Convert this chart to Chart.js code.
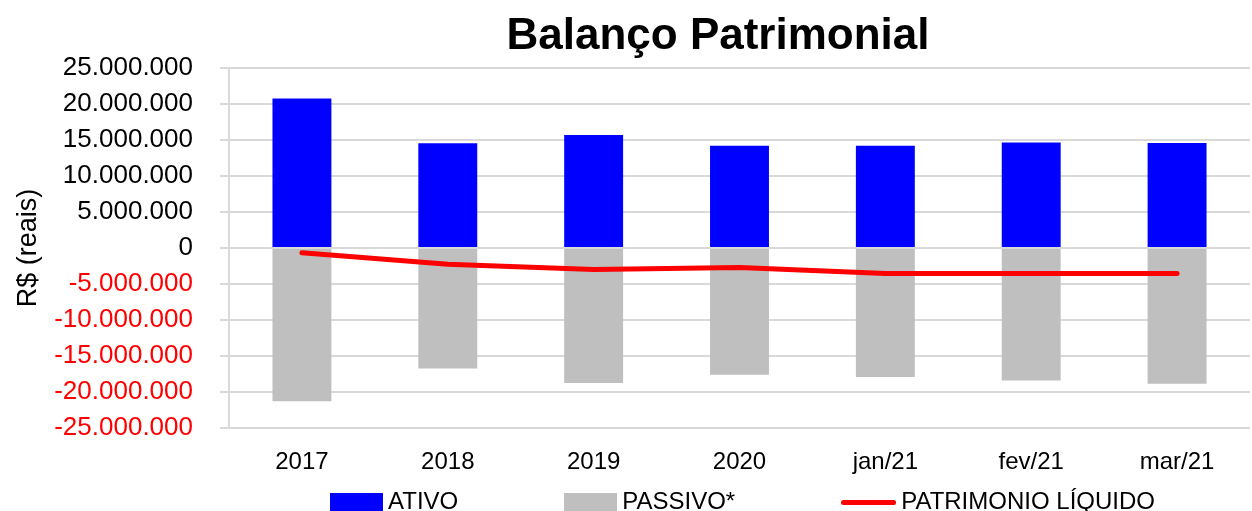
<!DOCTYPE html>
<html>
<head>
<meta charset="utf-8">
<script src="https://cdn.jsdelivr.net/npm/chart.js@4.4.0/dist/chart.umd.min.js"></script>
<style>
  body { margin: 0; background: #fff; overflow: hidden; }
  #wrap { position: relative; width: 1252px; height: 511px; font-family: "Liberation Sans", Arial, sans-serif; }
  #title { position: absolute; left: 418px; width: 600px; top: 12px; text-align: center;
           font: bold 44px/44px "Liberation Sans", Arial, sans-serif; color: #000; }
  #legend { position: absolute; left: 330px; top: 489px; display: flex; gap: 106px; }
  .item { display: flex; align-items: flex-start; font-size: 24px; line-height: 24px; color: #000; }
  .sw { width: 53px; height: 18px; margin-top: 4px; margin-right: 5px; }
  .ln { width: 55px; height: 5px; border-radius: 3px; margin-top: 11px; margin-right: 5px; }
</style>
</head>
<body>
<div id="wrap">
  <canvas id="c" width="1252" height="511"></canvas>
  <div id="title">Balanço Patrimonial</div>
  <div id="legend">
    <div class="item"><span class="sw" style="background:#0000FF"></span>ATIVO</div>
    <div class="item"><span class="sw" style="background:#BFBFBF"></span>PASSIVO*</div>
    <div class="item"><span class="ln" style="background:#FF0000"></span>PATRIMONIO LÍQUIDO</div>
  </div>
</div>
<script>
const labels = ['2017', '2018', '2019', '2020', 'jan/21', 'fev/21', 'mar/21'];
const ativo = [20750000, 14550000, 15700000, 14200000, 14200000, 14650000, 14600000];
const passivo = [-21300000, -16750000, -18750000, -17600000, -17900000, -18400000, -18850000];
const patrimonio = [-650000, -2270000, -2970000, -2700000, -3550000, -3550000, -3550000];

Chart.defaults.color = '#000';
Chart.defaults.font.family = '"Liberation Sans", Arial, sans-serif';

function fmt(v) {
  const s = String(Math.abs(v)).replace(/\B(?=(\d{3})+(?!\d))/g, '.');
  return v < 0 ? '-' + s : s;
}

new Chart(document.getElementById('c'), {
  data: {
    labels: labels,
    datasets: [
      {
        type: 'line',
        label: 'PATRIMONIO LÍQUIDO',
        data: patrimonio,
        borderColor: '#FF0000',
        borderWidth: 5,
        pointRadius: 0,
        tension: 0,
        borderCapStyle: 'round',
        borderJoinStyle: 'round',
        order: 0
      },
      {
        type: 'bar',
        label: 'ATIVO',
        data: ativo,
        backgroundColor: '#0000FF',
        categoryPercentage: 1,
        barPercentage: 0.404,
        order: 1
      },
      {
        type: 'bar',
        label: 'PASSIVO*',
        data: passivo,
        backgroundColor: '#BFBFBF',
        categoryPercentage: 1,
        barPercentage: 0.404,
        order: 1
      }
    ]
  },
  options: {
    responsive: false,
    animation: false,
    layout: { padding: { left: 12, right: 2, top: 68, bottom: 0 } },
    plugins: {
      legend: { display: false },
      tooltip: { enabled: false }
    },
    scales: {
      x: {
        stacked: true,
        offset: true,
        grid: { display: false, drawTicks: false },
        border: { display: false },
        ticks: { padding: 20, font: { size: 24 } },
        afterFit: (scale) => { scale.height = 83; }
      },
      y: {
        min: -25000000,
        max: 25000000,
        grid: { color: '#D9D9D9', lineWidth: 2, tickLength: 9, tickColor: '#D9D9D9' },
        border: { color: '#D9D9D9', width: 2 },
        ticks: {
          stepSize: 5000000,
          autoSkip: false,
          padding: 27,
          font: { size: 26 },
          color: (ctx) => ctx.tick && ctx.tick.value < 0 ? '#FF0000' : '#000',
          callback: (v) => fmt(v)
        },
        title: { display: true, text: 'R$ (reais)', font: { size: 27 }, padding: 0 },
        afterFit: (scale) => { scale.width = 217; }
      }
    }
  }
});
</script>
</body>
</html>
